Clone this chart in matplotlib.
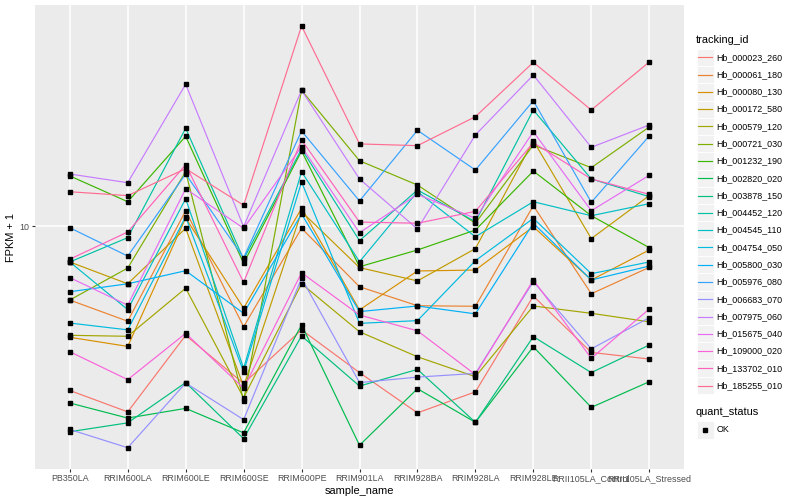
import matplotlib
matplotlib.use("Agg")
import matplotlib.pyplot as plt
from matplotlib.lines import Line2D
from matplotlib.patches import Rectangle
from matplotlib.ticker import NullLocator

plt.rcParams["font.family"] = ["Liberation Sans", "DejaVu Sans"]

# samples on the x axis
sample_name = ["PB350LA", "RRIM600LA", "RRIM600LE", "RRIM600SE", "RRIM600PE",
               "RRIM901LA", "RRIM928BA", "RRIM928LA", "RRIM928LE",
               "RRII105LA_Control", "RRII105LA_Stressed"]

# FPKM + 1 per gene
hb_000023_260 = [3.88, 3.43, 5.33, 4.04, 5.50, 4.30, 3.41, 3.85, 6.68, 4.83, 4.65]
hb_000061_180 = [6.53, 5.78, 10.92, 5.60, 9.87, 7.05, 6.32, 6.30, 11.24, 6.77, 7.88]
hb_000080_130 = [5.27, 5.00, 10.47, 6.23, 11.07, 6.17, 7.72, 7.76, 9.96, 7.33, 8.71]
hb_000172_580 = [8.13, 7.17, 9.87, 3.97, 10.86, 7.87, 7.29, 8.78, 16.34, 9.30, 11.91]
hb_000579_120 = [5.33, 5.30, 6.99, 3.72, 7.17, 5.44, 4.71, 4.20, 6.31, 6.05, 5.76]
hb_000721_030 = [6.53, 7.85, 13.67, 3.66, 21.84, 14.56, 12.66, 10.16, 15.94, 13.99, 17.68]
hb_001232_190 = [13.34, 11.50, 16.76, 8.07, 15.40, 7.91, 8.71, 9.77, 13.72, 10.61, 8.83]
hb_002820_020 = [3.61, 3.31, 3.50, 3.04, 5.66, 2.83, 3.92, 3.23, 4.99, 3.52, 4.08]
hb_003878_150 = [3.06, 3.22, 4.06, 2.94, 5.31, 3.98, 4.38, 3.23, 5.29, 4.30, 5.04]
hb_004452_120 = [8.13, 9.35, 17.55, 8.26, 15.58, 9.19, 12.30, 10.25, 19.50, 13.11, 11.84]
hb_004545_110 = [8.13, 6.18, 11.70, 4.41, 13.67, 8.14, 12.18, 9.40, 11.50, 10.61, 11.37]
hb_004754_050 = [5.72, 5.50, 10.55, 4.32, 12.88, 5.71, 5.80, 8.19, 10.45, 7.60, 8.13]
hb_005800_030 = [6.85, 7.17, 7.73, 6.05, 10.72, 6.11, 6.31, 6.03, 10.16, 7.33, 7.94]
hb_005976_080 = [9.90, 8.41, 13.49, 8.33, 17.28, 11.55, 17.35, 13.80, 20.57, 11.46, 16.79]
hb_006683_070 = [3.10, 2.79, 4.05, 3.28, 7.40, 4.06, 4.19, 4.28, 7.26, 4.93, 5.90]
hb_007975_060 = [13.49, 12.83, 22.61, 9.96, 21.84, 13.11, 9.83, 16.89, 23.85, 15.73, 17.89]
hb_015675_040 = [7.43, 6.34, 12.39, 9.87, 15.79, 9.62, 12.00, 10.45, 17.21, 10.92, 13.39]
hb_109000_020 = [4.85, 4.13, 5.39, 3.93, 7.64, 5.99, 5.47, 4.25, 7.33, 4.67, 6.20]
hb_133702_010 = [8.26, 9.66, 14.23, 7.23, 16.41, 10.23, 10.16, 10.88, 16.16, 13.11, 12.00]
hb_185255_010 = [12.18, 11.91, 13.91, 11.27, 31.62, 16.04, 15.88, 18.76, 25.66, 19.50, 25.70]

tracking_id = ["Hb_000023_260", "Hb_000061_180", "Hb_000080_130", "Hb_000172_580",
               "Hb_000579_120", "Hb_000721_030", "Hb_001232_190", "Hb_002820_020",
               "Hb_003878_150", "Hb_004452_120", "Hb_004545_110", "Hb_004754_050",
               "Hb_005800_030", "Hb_005976_080", "Hb_006683_070", "Hb_007975_060",
               "Hb_015675_040", "Hb_109000_020", "Hb_133702_010", "Hb_185255_010"]
series = [hb_000023_260, hb_000061_180, hb_000080_130, hb_000172_580, hb_000579_120,
          hb_000721_030, hb_001232_190, hb_002820_020, hb_003878_150, hb_004452_120,
          hb_004545_110, hb_004754_050, hb_005800_030, hb_005976_080, hb_006683_070,
          hb_007975_060, hb_015675_040, hb_109000_020, hb_133702_010, hb_185255_010]

# ggplot default hue palette for 20 groups
colours = ["#F8766D", "#EA8331", "#D89000", "#C09B00", "#A3A500", "#7CAE00", "#39B600",
           "#00BB4E", "#00BF7D", "#00C1A3", "#00BFC4", "#00BAE0", "#00B0F6", "#35A2FF",
           "#9590FF", "#C77CFF", "#E76BF3", "#FA62DB", "#FF62BC", "#FF6C91"]

fig = plt.figure(figsize=(8, 5), dpi=100)
ax = fig.add_axes([35 / 800, 31 / 500, 649 / 800, 464 / 500])
ax.set_facecolor("#EBEBEB")
for s in ax.spines.values():
    s.set_visible(False)

xs = list(range(len(sample_name)))
for vals, col in zip(series, colours):
    ax.plot(xs, vals, "-", color=col, lw=0.85, zorder=2)
for vals in series:
    ax.plot(xs, vals, "s", color="black", ms=2.6, zorder=3, lw=0)

ax.set_yscale("log")
ax.set_ylim(10 ** 0.3925, 10 ** 1.5525)
ax.set_xlim(-0.6, len(sample_name) - 0.4)
ax.set_yticks([10])
ax.set_yticklabels(["10"])
ax.yaxis.set_minor_locator(NullLocator())
ax.set_xticks(xs)
ax.set_xticklabels(sample_name)
ax.grid(True, color="white", lw=1.1, zorder=0)
ax.set_axisbelow(True)
ax.tick_params(length=2.0, width=0.8, color="#333333", labelsize=6.4,
               labelcolor="#4D4D4D", pad=1.8)
ax.set_xlabel("sample_name", fontsize=7.9, labelpad=2)
ax.set_ylabel("FPKM + 1", fontsize=7.9, labelpad=3)

# legends drawn in pixel coordinates
ov = fig.add_axes([0, 0, 1, 1])
ov.set_xlim(0, 800); ov.set_ylim(500, 0); ov.axis("off")
ov.text(696, 40, "tracking_id", fontsize=7.9, va="center", ha="left")
step = 17.28
for i, (name, col) in enumerate(zip(tracking_id, colours)):
    y = 57.3 + i * step
    ov.add_patch(Rectangle((696.5, y - step / 2), step, step, facecolor="#F2F2F2",
                           edgecolor="white", lw=0.6))
    ov.add_line(Line2D([698.2, 712.0], [y, y], color=col, lw=0.85))
    ov.text(716.5, y, name, fontsize=6.4, va="center", ha="left")

ov.text(696, 412, "quant_status", fontsize=7.9, va="center", ha="left")
ov.add_patch(Rectangle((696.5, 430 - step / 2), step, step, facecolor="#F2F2F2",
                       edgecolor="white", lw=0.6))
ov.plot([705.1], [430], "s", color="black", ms=2.6)
ov.text(716.5, 430, "OK", fontsize=6.4, va="center", ha="left")

fig.savefig("out.png", dpi=100)
